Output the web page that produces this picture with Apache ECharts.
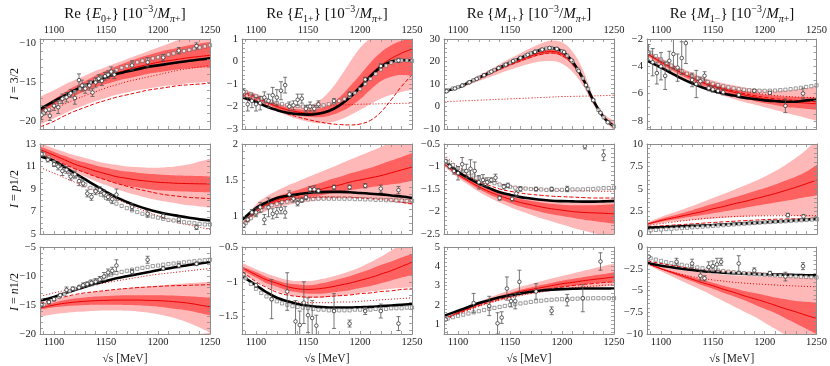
<!DOCTYPE html>
<html><head><meta charset="utf-8">
<script src="https://cdn.jsdelivr.net/npm/echarts@6/dist/echarts.min.js"></script>
<style>html,body{margin:0;padding:0;background:#fff}#c{width:830px;height:366px}</style>
</head><body><div id="c"></div>
<script>
// ---------------- DATA ----------------
// panels in order: row (I=3/2, p1/2, n1/2) x column (E0+, E1+, M1+, M1-)
const xs = [1087,1100,1110,1120,1130,1140,1150,1160,1170,1180,1190,1200,1210,1220,1230,1240,1250];
const sqX = [1090,1095,1100,1105,1110,1115,1120,1125,1130,1135,1140,1145,1150,1155,1160,1165,1170,1175,1180,1185,1190,1195,1200,1205,1210,1215,1220,1225,1230,1235,1240,1245,1250];
const xTickLabels = [1100,1150,1200,1250];
const xTicks = [1090,1100,1110,1120,1130,1140,1150,1160,1170,1180,1190,1200,1210,1220,1230,1240,1250];
const colNames = [['E','0+'],['E','1+'],['M','1+'],['M','1−']];
const rowNames = ['3/2','p1/2','n1/2'];

const yMin = [-21,-3,-10,-8.6, 5,0.75,-2.5,0, -20,-1.75,0.5,-10];
const yMax = [-9.4,1,30,-2, 13,2,-0.5,10, -5,-0.5,5,0];
const yLabels = [
  [-20,-15,-10],[-3,-2,-1,0,1],[-10,0,10,20,30],[-8,-6,-4,-2],
  [5,7,9,11,13],[1,1.5,2],[-2.5,-2,-1.5,-1,-0.5],[0,2.5,5,7.5,10],
  [-20,-15,-10,-5],[-1.5,-1,-0.5],[1,2,3,4,5],[-10,-7.5,-5,-2.5,0]
];
const yMinor = [1,0.2,2,0.5, 0.5,0.1,0.1,0.5, 1,0.1,0.2,0.5];

const outerHi = [
  [-16.8,-16.0,-15.3,-14.7,-14.1,-13.5,-13.0,-12.5,-12.0,-11.5,-11.0,-10.5,-10.0,-9.5,-9.0,-8.5,-8.0],
  [-1.22,-1.42,-1.62,-1.8,-1.92,-1.98,-1.95,-1.75,-1.35,-0.75,-0.05,0.6,1.05,1.4,1.6,1.7,1.75],
  [7.0,8.9,11.2,13.7,16.2,18.8,21.3,23.7,26.0,28.0,29.3,28.6,24.5,16.5,4.5,-3.2,-6.2],
  [-2.9,-3.4,-3.8,-4.15,-4.48,-4.8,-5.05,-5.25,-5.4,-5.55,-5.65,-5.72,-5.75,-5.75,-5.7,-5.6,-5.5],
  [13.1,12.6,12.3,12.0,11.75,11.5,11.3,11.15,11.0,10.95,10.9,10.9,10.95,11.05,11.2,11.45,11.7],
  [0.9,1.16,1.27,1.35,1.42,1.48,1.54,1.6,1.66,1.72,1.78,1.84,1.9,1.96,2.02,2.08,2.14],
  [-0.9,-1.12,-1.24,-1.36,-1.46,-1.54,-1.6,-1.66,-1.7,-1.74,-1.76,-1.78,-1.78,-1.77,-1.76,-1.74,-1.72],
  [1.3,1.9,2.3,2.7,3.1,3.55,4.0,4.45,4.9,5.35,5.85,6.4,7.0,7.7,8.5,9.4,10.5],
  [-14.8,-14.1,-13.65,-13.3,-13.0,-12.75,-12.55,-12.35,-12.15,-11.95,-11.8,-11.65,-11.5,-11.35,-11.2,-11.1,-11.0],
  [-0.73,-0.82,-0.88,-0.93,-0.97,-0.99,-0.99,-0.97,-0.94,-0.9,-0.85,-0.79,-0.72,-0.64,-0.55,-0.45,-0.35],
  [1.35,1.67,1.93,2.17,2.38,2.58,2.76,2.94,3.09,3.23,3.37,3.5,3.63,3.76,3.89,4.02,4.15],
  [-1.75,-2.2,-2.45,-2.65,-2.8,-2.95,-3.05,-3.15,-3.25,-3.3,-3.35,-3.4,-3.42,-3.45,-3.47,-3.48,-3.5]
];
const outerLo = [
  [-20.4,-19.6,-19.0,-18.4,-17.9,-17.4,-17.0,-16.6,-16.3,-16.0,-15.8,-15.6,-15.4,-15.3,-15.1,-15.0,-14.9],
  [-1.5,-1.74,-1.98,-2.2,-2.4,-2.56,-2.68,-2.74,-2.72,-2.6,-2.4,-2.16,-1.9,-1.66,-1.48,-1.35,-1.27],
  [6.6,7.9,9.6,11.3,13.0,14.7,16.3,17.8,19.1,20.0,20.2,19.0,15.5,9.5,1.0,-5.8,-10.5],
  [-3.3,-4.0,-4.4,-4.85,-5.22,-5.6,-5.88,-6.15,-6.4,-6.62,-6.8,-7.0,-7.2,-7.4,-7.6,-7.8,-8.0],
  [11.9,11.4,10.95,10.5,10.1,9.7,9.35,9.0,8.7,8.45,8.2,8.0,7.85,7.7,7.55,7.45,7.35],
  [0.82,1.0,1.07,1.12,1.15,1.18,1.2,1.22,1.23,1.24,1.24,1.24,1.23,1.22,1.2,1.18,1.15],
  [-1.0,-1.25,-1.41,-1.56,-1.69,-1.8,-1.9,-1.99,-2.07,-2.15,-2.22,-2.29,-2.36,-2.42,-2.48,-2.54,-2.6],
  [0.95,1.2,1.35,1.45,1.55,1.62,1.7,1.78,1.85,1.92,2.0,2.05,2.1,2.1,2.0,1.85,1.6],
  [-17.0,-16.6,-16.4,-16.2,-16.1,-16.0,-15.95,-15.95,-16.0,-16.1,-16.3,-16.6,-17.0,-17.5,-18.1,-18.9,-19.8],
  [-0.88,-0.99,-1.07,-1.13,-1.18,-1.21,-1.23,-1.23,-1.22,-1.2,-1.18,-1.16,-1.14,-1.12,-1.1,-1.09,-1.08],
  [1.25,1.53,1.74,1.93,2.09,2.23,2.36,2.48,2.57,2.65,2.72,2.78,2.84,2.88,2.92,2.96,3.0],
  [-2.05,-2.8,-3.35,-3.9,-4.45,-5.0,-5.6,-6.2,-6.8,-7.4,-8.0,-8.7,-9.4,-10.1,-10.8,-11.5,-12.2]
];
const innerHi = [
  [-18.3,-17.2,-16.3,-15.5,-14.8,-14.1,-13.5,-12.9,-12.4,-11.9,-11.5,-11.1,-10.8,-10.5,-10.2,-10.0,-9.8],
  [-1.28,-1.5,-1.72,-1.9,-2.04,-2.12,-2.15,-2.1,-1.92,-1.6,-1.12,-0.6,-0.05,0.4,0.72,0.92,1.05],
  [6.9,8.6,10.7,12.9,15.1,17.4,19.6,21.6,23.5,25.0,25.6,24.3,20.0,12.5,2.9,-4.2,-7.8],
  [-3.0,-3.55,-3.95,-4.33,-4.67,-5.0,-5.25,-5.48,-5.66,-5.83,-5.96,-6.08,-6.16,-6.22,-6.26,-6.28,-6.3],
  [12.75,12.3,11.95,11.6,11.35,11.1,10.9,10.7,10.55,10.45,10.35,10.3,10.25,10.2,10.18,10.15,10.1],
  [0.88,1.11,1.2,1.27,1.32,1.36,1.41,1.45,1.5,1.54,1.59,1.63,1.67,1.72,1.77,1.82,1.87],
  [-0.93,-1.15,-1.28,-1.4,-1.5,-1.59,-1.66,-1.72,-1.76,-1.8,-1.83,-1.85,-1.86,-1.86,-1.86,-1.85,-1.84],
  [1.2,1.7,2.0,2.3,2.65,3.0,3.35,3.7,4.05,4.4,4.75,5.1,5.5,5.95,6.4,6.95,7.7],
  [-15.2,-14.6,-14.2,-13.9,-13.7,-13.55,-13.45,-13.35,-13.3,-13.3,-13.3,-13.3,-13.35,-13.4,-13.5,-13.6,-13.7],
  [-0.78,-0.86,-0.93,-0.98,-1.02,-1.04,-1.05,-1.03,-1.0,-0.96,-0.92,-0.87,-0.82,-0.76,-0.71,-0.65,-0.6],
  [1.32,1.63,1.87,2.1,2.29,2.47,2.63,2.79,2.91,3.03,3.14,3.25,3.34,3.43,3.52,3.6,3.7],
  [-1.85,-2.4,-2.75,-3.1,-3.45,-3.8,-4.1,-4.45,-4.75,-5.05,-5.3,-5.55,-5.8,-6.0,-6.2,-6.3,-6.4]
];
const innerLo = [
  [-18.9,-18.0,-17.3,-16.7,-16.1,-15.6,-15.2,-14.8,-14.5,-14.2,-13.9,-13.7,-13.5,-13.3,-13.2,-13.1,-13.0],
  [-1.42,-1.64,-1.88,-2.1,-2.26,-2.38,-2.46,-2.48,-2.42,-2.26,-2.02,-1.68,-1.25,-0.88,-0.68,-0.6,-0.62],
  [6.7,8.2,10.1,12.1,14.1,16.2,18.1,19.9,21.6,22.9,23.4,22.2,18.4,11.5,2.3,-4.9,-8.9],
  [-3.2,-3.85,-4.25,-4.67,-5.03,-5.4,-5.65,-5.92,-6.14,-6.37,-6.54,-6.72,-6.84,-6.98,-7.04,-7.12,-7.2],
  [12.25,11.7,11.25,10.8,10.45,10.1,9.8,9.5,9.3,9.15,9.0,8.9,8.85,8.8,8.76,8.73,8.7],
  [0.84,1.05,1.12,1.17,1.2,1.23,1.26,1.28,1.31,1.33,1.36,1.38,1.4,1.42,1.44,1.46,1.49],
  [-0.97,-1.21,-1.36,-1.5,-1.62,-1.72,-1.81,-1.89,-1.95,-2.01,-2.06,-2.1,-2.14,-2.18,-2.21,-2.24,-2.27],
  [1.0,1.35,1.55,1.75,1.95,2.1,2.3,2.5,2.7,2.9,3.1,3.3,3.5,3.7,3.9,4.1,4.3],
  [-15.8,-15.4,-15.2,-15.1,-15.0,-14.95,-14.95,-14.95,-15.0,-15.05,-15.15,-15.3,-15.5,-15.75,-16.0,-16.4,-16.8],
  [-0.83,-0.94,-1.02,-1.07,-1.12,-1.15,-1.17,-1.17,-1.16,-1.14,-1.12,-1.09,-1.06,-1.02,-0.98,-0.94,-0.9],
  [1.28,1.57,1.79,2.0,2.17,2.33,2.47,2.61,2.7,2.78,2.86,2.95,3.0,3.07,3.12,3.16,3.2],
  [-1.95,-2.6,-3.05,-3.5,-3.95,-4.4,-4.8,-5.25,-5.65,-6.1,-6.6,-7.1,-7.6,-8.2,-8.8,-9.4,-10.0]
];
const redCentral = [
  [-18.6,-17.6,-16.8,-16.1,-15.4,-14.8,-14.3,-13.8,-13.4,-13.0,-12.7,-12.4,-12.2,-12.0,-11.8,-11.65,-11.5],
  [-1.35,-1.57,-1.8,-2.0,-2.15,-2.24,-2.3,-2.28,-2.16,-1.92,-1.55,-1.06,-0.57,-0.17,0.13,0.37,0.55],
  [6.8,8.4,10.4,12.5,14.6,16.8,18.8,20.7,22.5,23.9,24.5,23.3,19.2,12.0,2.6,-4.5,-8.3],
  [-3.1,-3.7,-4.1,-4.5,-4.85,-5.2,-5.45,-5.7,-5.9,-6.1,-6.25,-6.4,-6.5,-6.6,-6.65,-6.7,-6.75],
  [12.5,12.0,11.6,11.2,10.9,10.6,10.35,10.1,9.95,9.8,9.7,9.6,9.55,9.5,9.48,9.46,9.45],
  [0.86,1.08,1.16,1.22,1.26,1.29,1.33,1.36,1.4,1.43,1.47,1.5,1.53,1.56,1.6,1.64,1.68],
  [-0.95,-1.18,-1.32,-1.45,-1.56,-1.65,-1.73,-1.8,-1.85,-1.9,-1.94,-1.97,-2.0,-2.02,-2.03,-2.04,-2.05],
  [1.1,1.5,1.75,2.0,2.25,2.5,2.8,3.05,3.35,3.6,3.9,4.2,4.5,4.85,5.2,5.6,6.0],
  [-15.5,-15.0,-14.7,-14.5,-14.35,-14.25,-14.2,-14.15,-14.15,-14.15,-14.2,-14.25,-14.35,-14.5,-14.7,-15.0,-15.3],
  [-0.8,-0.9,-0.97,-1.02,-1.07,-1.1,-1.11,-1.1,-1.08,-1.05,-1.02,-0.98,-0.94,-0.89,-0.84,-0.78,-0.72],
  [1.3,1.6,1.83,2.05,2.23,2.4,2.55,2.7,2.8,2.9,3.0,3.1,3.17,3.25,3.32,3.38,3.45],
  [-1.9,-2.5,-2.9,-3.3,-3.7,-4.1,-4.45,-4.85,-5.2,-5.6,-5.95,-6.3,-6.7,-7.1,-7.45,-7.85,-8.2]
];
const redDashed = [
  [-20.7,-20.0,-19.3,-18.7,-18.2,-17.7,-17.3,-16.9,-16.6,-16.3,-16.0,-15.8,-15.6,-15.4,-15.3,-15.2,-15.1],
  [-1.5,-1.72,-1.95,-2.15,-2.33,-2.46,-2.58,-2.68,-2.76,-2.8,-2.82,-2.78,-2.62,-2.25,-1.7,-1.1,-0.6],
  [6.7,8.2,10.2,12.2,14.3,16.4,18.4,20.2,21.9,23.2,23.8,22.6,18.7,11.7,2.5,-4.6,-8.5],
  [-3.05,-3.65,-4.05,-4.45,-4.8,-5.12,-5.38,-5.62,-5.82,-6.0,-6.15,-6.28,-6.38,-6.45,-6.5,-6.55,-6.6],
  [12.2,11.6,11.2,10.8,10.45,10.1,9.8,9.5,9.25,9.0,8.8,8.6,8.45,8.35,8.25,8.2,8.15],
  [0.87,1.05,1.13,1.19,1.22,1.24,1.25,1.26,1.26,1.26,1.26,1.25,1.24,1.23,1.21,1.19,1.17],
  [-0.9,-1.1,-1.22,-1.33,-1.42,-1.5,-1.55,-1.59,-1.62,-1.64,-1.66,-1.67,-1.68,-1.69,-1.7,-1.7,-1.7],
  [0.8,0.9,0.98,1.05,1.12,1.2,1.28,1.35,1.42,1.48,1.54,1.6,1.64,1.67,1.69,1.7,1.7],
  [-14.7,-14.0,-13.6,-13.2,-12.9,-12.7,-12.5,-12.3,-12.15,-12.0,-11.9,-11.8,-11.7,-11.65,-11.6,-11.55,-11.5],
  [-0.85,-1.0,-1.08,-1.15,-1.19,-1.21,-1.22,-1.22,-1.21,-1.2,-1.19,-1.17,-1.16,-1.14,-1.13,-1.11,-1.1],
  [1.28,1.55,1.77,1.97,2.14,2.3,2.43,2.56,2.66,2.76,2.85,2.93,3.0,3.06,3.11,3.16,3.2],
  [-1.6,-1.9,-2.1,-2.3,-2.45,-2.58,-2.68,-2.77,-2.85,-2.92,-2.98,-3.03,-3.08,-3.12,-3.16,-3.19,-3.22]
];
const redDotted = [
  [-19.2,-18.4,-17.8,-17.2,-16.7,-16.2,-15.7,-15.3,-14.9,-14.6,-14.3,-14.0,-13.7,-13.4,-13.2,-13.0,-12.8],
  [-1.4,-1.65,-1.8,-1.9,-1.95,-1.97,-1.97,-1.96,-1.95,-1.93,-1.92,-1.9,-1.89,-1.88,-1.87,-1.86,-1.85],
  [2.2,2.4,2.6,2.8,3.0,3.2,3.4,3.6,3.8,4.0,4.2,4.4,4.5,4.6,4.7,4.85,5.0],
  [-2.95,-3.5,-3.9,-4.3,-4.65,-4.98,-5.24,-5.47,-5.66,-5.82,-5.95,-6.06,-6.14,-6.2,-6.25,-6.28,-6.3],
  [10.9,10.4,10.0,9.6,9.2,8.85,8.5,8.1,7.7,7.3,6.95,6.6,6.3,6.0,5.8,5.6,5.4],
  [0.9,1.08,1.15,1.2,1.23,1.25,1.26,1.265,1.265,1.26,1.255,1.25,1.245,1.24,1.235,1.23,1.22],
  [-0.75,-1.0,-1.13,-1.24,-1.32,-1.39,-1.44,-1.47,-1.49,-1.51,-1.52,-1.53,-1.54,-1.54,-1.55,-1.55,-1.55],
  [0.95,1.15,1.3,1.45,1.58,1.7,1.8,1.88,1.94,1.98,2.0,2.02,2.03,2.04,2.04,2.04,2.04],
  [-13.5,-12.9,-12.5,-12.1,-11.75,-11.45,-11.15,-10.85,-10.55,-10.25,-9.95,-9.7,-9.5,-9.3,-9.1,-8.9,-8.7],
  [-0.9,-1.05,-1.15,-1.22,-1.27,-1.29,-1.3,-1.3,-1.3,-1.29,-1.29,-1.28,-1.27,-1.26,-1.25,-1.24,-1.23],
  [1.25,1.5,1.72,1.92,2.09,2.24,2.37,2.49,2.59,2.68,2.76,2.83,2.89,2.94,2.98,3.02,3.05],
  [-1.9,-2.5,-2.85,-3.15,-3.4,-3.6,-3.78,-3.92,-4.05,-4.15,-4.23,-4.3,-4.37,-4.43,-4.48,-4.53,-4.58]
];
const blackCurve = [
  [-18.4,-17.4,-16.7,-16.0,-15.4,-14.8,-14.3,-13.9,-13.6,-13.3,-13.0,-12.8,-12.6,-12.4,-12.2,-12.05,-11.9],
  [-1.6,-1.8,-2.0,-2.16,-2.28,-2.34,-2.36,-2.32,-2.2,-1.96,-1.6,-1.15,-0.66,-0.25,0.0,0.07,0.03],
  [6.8,8.5,10.6,12.8,15.0,17.3,19.5,21.6,23.6,25.2,26.0,24.6,20.0,12.5,2.8,-4.8,-8.8],
  [-3.6,-4.1,-4.5,-4.9,-5.25,-5.55,-5.8,-6.0,-6.15,-6.3,-6.4,-6.5,-6.55,-6.6,-6.6,-6.5,-6.45],
  [11.9,11.5,10.95,10.4,9.85,9.3,8.75,8.25,7.85,7.5,7.2,6.95,6.75,6.6,6.45,6.3,6.2],
  [0.95,1.11,1.19,1.25,1.28,1.3,1.32,1.33,1.335,1.335,1.33,1.32,1.31,1.3,1.285,1.27,1.25],
  [-0.86,-1.12,-1.26,-1.38,-1.48,-1.57,-1.63,-1.68,-1.71,-1.74,-1.76,-1.77,-1.775,-1.78,-1.78,-1.775,-1.77],
  [0.7,0.75,0.8,0.85,0.9,0.95,1.0,1.06,1.12,1.18,1.24,1.3,1.37,1.44,1.52,1.6,1.7],
  [-14.2,-13.6,-13.0,-12.4,-11.85,-11.3,-10.85,-10.4,-10.05,-9.7,-9.35,-9.0,-8.7,-8.4,-8.1,-7.85,-7.6],
  [-0.92,-1.05,-1.15,-1.23,-1.28,-1.32,-1.345,-1.36,-1.37,-1.37,-1.37,-1.365,-1.36,-1.35,-1.34,-1.33,-1.32],
  [1.45,1.7,1.9,2.1,2.25,2.4,2.5,2.6,2.68,2.75,2.79,2.82,2.84,2.85,2.85,2.85,2.85],
  [-1.85,-2.15,-2.33,-2.5,-2.65,-2.78,-2.88,-2.96,-3.02,-3.07,-3.11,-3.15,-3.17,-3.19,-3.21,-3.24,-3.26]
];
const squares = [
  [-19.0,-18.5,-18.0,-17.5,-17.0,-16.6,-16.2,-15.8,-15.4,-15.0,-14.7,-14.3,-14.0,-13.7,-13.4,-13.1,-12.9,-12.6,-12.4,-12.2,-12.05,-11.9,-11.75,-11.6,-11.4,-11.25,-11.1,-10.95,-10.8,-10.65,-10.5,-10.35,-10.2],
  [-1.35,-1.45,-1.55,-1.64,-1.72,-1.78,-1.84,-1.89,-1.93,-1.96,-1.98,-2.0,-2.0,-2.0,-1.98,-1.95,-1.9,-1.83,-1.75,-1.66,-1.55,-1.4,-1.22,-1.0,-0.77,-0.55,-0.35,-0.18,-0.05,0.03,0.05,0.05,0.03],
  [7.2,8.0,8.6,9.5,10.6,11.7,12.8,13.9,15.0,16.2,17.3,18.4,19.5,20.6,21.6,22.6,23.6,24.5,25.2,25.8,26.0,25.6,24.6,22.6,20.0,16.5,12.5,7.8,2.8,-1.5,-4.8,-7.0,-8.8],
  [-3.0,-3.25,-3.5,-3.75,-3.95,-4.15,-4.35,-4.55,-4.72,-4.88,-5.02,-5.15,-5.28,-5.38,-5.47,-5.55,-5.62,-5.68,-5.72,-5.76,-5.78,-5.79,-5.8,-5.79,-5.78,-5.75,-5.72,-5.68,-5.63,-5.58,-5.52,-5.46,-5.4],
  [12.1,11.8,11.4,11.05,10.7,10.35,10.05,9.7,9.4,9.1,8.8,8.5,8.2,7.95,7.7,7.5,7.3,7.1,6.95,6.8,6.65,6.55,6.45,6.35,6.25,6.2,6.1,6.05,6.0,5.95,5.9,5.85,5.85],
  [0.9,0.97,1.03,1.08,1.12,1.15,1.17,1.19,1.2,1.21,1.22,1.225,1.23,1.235,1.24,1.24,1.24,1.24,1.24,1.24,1.24,1.235,1.235,1.23,1.23,1.225,1.225,1.22,1.22,1.215,1.215,1.21,1.21],
  [-0.9,-0.97,-1.04,-1.1,-1.15,-1.2,-1.25,-1.29,-1.33,-1.37,-1.4,-1.43,-1.45,-1.47,-1.48,-1.49,-1.5,-1.51,-1.51,-1.52,-1.52,-1.52,-1.52,-1.52,-1.51,-1.51,-1.51,-1.5,-1.5,-1.49,-1.48,-1.48,-1.47],
  [0.4,0.45,0.5,0.54,0.58,0.62,0.66,0.7,0.74,0.78,0.82,0.86,0.9,0.94,0.98,1.02,1.06,1.1,1.14,1.18,1.22,1.26,1.3,1.33,1.36,1.39,1.42,1.46,1.5,1.53,1.56,1.6,1.63],
  [-15.0,-14.5,-14.0,-13.6,-13.1,-12.6,-12.2,-11.8,-11.4,-11.0,-10.7,-10.35,-10.05,-9.75,-9.5,-9.3,-9.1,-8.9,-8.75,-8.6,-8.45,-8.3,-8.2,-8.05,-7.95,-7.85,-7.75,-7.65,-7.55,-7.45,-7.35,-7.28,-7.2],
  [-0.95,-1.03,-1.1,-1.16,-1.21,-1.25,-1.28,-1.31,-1.33,-1.35,-1.36,-1.37,-1.38,-1.39,-1.4,-1.4,-1.41,-1.41,-1.41,-1.41,-1.41,-1.4,-1.4,-1.4,-1.4,-1.39,-1.39,-1.39,-1.38,-1.38,-1.38,-1.37,-1.37],
  [1.3,1.37,1.44,1.5,1.56,1.62,1.68,1.74,1.8,1.85,1.9,1.95,2.0,2.04,2.08,2.12,2.16,2.19,2.22,2.25,2.27,2.29,2.3,2.31,2.32,2.33,2.34,2.34,2.35,2.35,2.35,2.35,2.35],
  [-1.3,-1.45,-1.6,-1.75,-1.85,-1.95,-2.05,-2.15,-2.25,-2.35,-2.45,-2.55,-2.62,-2.7,-2.77,-2.84,-2.9,-2.96,-3.0,-3.05,-3.1,-3.14,-3.18,-3.22,-3.25,-3.29,-3.32,-3.35,-3.38,-3.41,-3.44,-3.47,-3.5]
];
// measured points: [x, value, error]
const points = [
  [[1088,-19.2,0.6],[1092,-18.6,0.5],[1096,-19.3,0.6],[1100,-18.0,0.6],[1104,-18.2,0.8],[1108,-17.1,0.6],[1112,-16.9,0.6],[1116,-16.4,0.5],[1120,-17.0,0.8],[1124,-14.7,0.8],[1127,-15.4,0.7],[1130,-15.8,0.6],[1134,-15.4,0.6],[1137,-16.3,0.5],[1140,-15.0,0.6],[1143,-14.5,0.5],[1146,-14.8,0.6],[1149,-14.2,0.5],[1152,-14.0,0.5],[1155,-13.6,0.6],[1158,-14.0,0.5],[1175,-12.8,0.6],[1190,-12.4,0.6],[1205,-11.8,0.4],[1220,-10.9,0.4],[1237,-10.3,0.4]],
  [[1088,-1.35,0.15],[1092,-1.9,0.3],[1096,-1.75,0.3],[1100,-1.9,0.3],[1104,-1.85,0.3],[1108,-1.6,0.25],[1112,-1.75,0.3],[1116,-1.5,0.35],[1120,-1.6,0.35],[1124,-1.3,0.4],[1128,-1.05,0.35],[1132,-2.0,0.2],[1136,-1.95,0.2],[1140,-1.7,0.25],[1144,-1.65,0.2],[1148,-2.1,0.15],[1152,-2.0,0.2],[1156,-2.1,0.15],[1160,-1.9,0.15],[1175,-1.75,0.1],[1190,-1.45,0.1],[1205,-0.8,0.1],[1220,-0.2,0.1],[1237,0.05,0.1]],
  [[1089,6.8,0.3],[1097,8.0,0.3],[1104,9.3,0.3],[1111,10.8,0.3],[1118,12.3,0.3],[1125,13.9,0.3],[1132,15.5,0.3],[1139,17.1,0.3],[1146,18.6,0.3],[1153,20.2,0.3],[1160,21.6,0.3],[1167,23.0,0.3],[1174,24.3,0.3],[1181,25.3,0.3],[1188,26.0,0.3],[1195,25.6,0.3],[1202,24.2,0.3],[1209,20.6,0.3],[1216,15.8,0.3],[1223,9.5,0.3],[1230,2.8,0.3],[1237,-2.8,0.3],[1244,-7.0,0.3]],
  [[1088,-3.0,0.6],[1092,-3.7,1.0],[1096,-4.5,0.8],[1100,-4.0,1.0],[1104,-4.7,1.0],[1108,-3.6,0.7],[1112,-3.1,1.1],[1116,-4.1,1.0],[1120,-3.4,1.2],[1124,-2.3,1.5],[1130,-5.0,0.5],[1134,-5.3,1.0],[1138,-5.1,0.3],[1142,-4.7,0.3],[1146,-5.6,0.2],[1150,-5.7,0.2],[1155,-5.8,0.2],[1160,-5.9,0.2],[1175,-6.1,0.1],[1190,-5.8,0.1],[1205,-5.95,0.1],[1220,-6.9,0.5],[1237,-6.0,0.4]],
  [[1088,12.1,0.2],[1094,11.6,0.2],[1100,11.2,0.2],[1104,11.0,0.3],[1108,10.6,0.4],[1112,10.7,0.3],[1116,10.1,0.3],[1120,10.3,0.3],[1124,9.7,0.4],[1128,9.5,0.3],[1132,8.6,0.3],[1136,8.3,0.3],[1140,8.8,0.3],[1144,8.9,0.3],[1148,8.6,0.3],[1152,8.3,0.3],[1156,8.1,0.4],[1160,8.5,0.5],[1175,7.4,0.3],[1190,6.8,0.3],[1205,6.6,0.2],[1220,6.3,0.2],[1237,5.6,0.2]],
  [[1088,0.87,0.03],[1092,0.95,0.03],[1096,1.05,0.04],[1100,1.05,0.06],[1104,1.12,0.07],[1108,0.95,0.07],[1112,1.12,0.13],[1116,1.03,0.07],[1120,1.05,0.07],[1124,1.1,0.07],[1128,1.05,0.08],[1132,1.3,0.05],[1136,1.24,0.04],[1140,1.18,0.04],[1144,1.22,0.03],[1148,1.26,0.03],[1152,1.37,0.04],[1156,1.37,0.05],[1160,1.35,0.03],[1175,1.4,0.03],[1190,1.4,0.03],[1205,1.42,0.03],[1220,1.38,0.05],[1237,1.36,0.05]],
  [[1088,-0.88,0.03],[1092,-1.0,0.05],[1096,-1.1,0.07],[1100,-1.15,0.15],[1104,-0.95,0.15],[1108,-1.1,0.15],[1112,-1.05,0.2],[1116,-1.1,0.2],[1120,-1.35,0.15],[1124,-1.3,0.12],[1128,-1.35,0.1],[1132,-1.3,0.05],[1136,-1.25,0.08],[1140,-1.7,0.05],[1144,-1.45,0.05],[1148,-1.42,0.05],[1152,-1.72,0.05],[1156,-1.6,0.06],[1160,-1.5,0.05],[1175,-1.5,0.04],[1190,-1.5,0.04],[1205,-1.5,0.06],[1222,-0.55,0.06],[1240,-0.75,0.12]],
  [[1222,2.1,0.2],[1237,1.95,0.2]],
  [[1088,-15.0,0.3],[1095,-14.5,0.3],[1100,-14.0,0.3],[1106,-13.3,0.3],[1112,-12.4,0.5],[1118,-12.2,0.3],[1124,-12.0,0.3],[1128,-11.6,0.4],[1132,-11.4,0.4],[1136,-11.2,0.5],[1140,-11.0,0.5],[1144,-10.6,0.5],[1148,-10.1,0.7],[1152,-9.4,0.6],[1156,-9.1,0.6],[1160,-8.2,1.0],[1175,-9.3,0.4],[1190,-7.2,0.6],[1205,-8.7,0.3],[1220,-8.2,0.4],[1237,-7.9,0.3]],
  [[1088,-0.9,0.03],[1100,-1.05,0.03],[1115,-1.25,0.28],[1130,-1.14,0.27],[1138,-1.57,0.3],[1142,-1.62,0.2],[1146,-1.3,0.3],[1150,-1.48,0.25],[1154,-1.52,0.25],[1158,-1.63,0.15],[1175,-1.42,0.25],[1190,-1.6,0.05],[1205,-1.42,0.05],[1220,-1.42,0.1],[1237,-1.6,0.1]],
  [[1088,1.25,0.05],[1115,2.1,0.5],[1130,1.95,0.5],[1138,1.05,0.55],[1142,1.35,0.3],[1147,2.85,0.6],[1151,2.2,0.3],[1155,2.2,0.4],[1159,3.2,0.6],[1175,2.7,0.4],[1190,1.7,0.2],[1205,2.25,0.3],[1220,2.35,0.7],[1237,4.25,0.45]],
  [[1088,-1.1,0.1],[1115,-1.7,0.4],[1130,-1.9,0.5],[1138,-3.3,0.5],[1142,-3.6,0.3],[1146,-2.3,0.6],[1150,-2.2,0.6],[1154,-2.0,0.7],[1158,-1.7,0.4],[1175,-1.9,0.9],[1190,-2.7,0.3],[1205,-3.0,0.2],[1220,-3.4,0.5],[1237,-2.2,0.4]]
];

// ---------------- LAYOUT / STYLE ----------------
const colLeft = [40, 242, 444, 647];
const colW = 170;
const rowTop = [39, 144, 247];
const rowH = 90;
const X_MIN = 1086.5, X_MAX = 1250;
const FONT = 'Liberation Serif';
const FRAME = '#8c8c8c';
const C_OUTER = '#ffb8b8', C_INNER = '#ff6060', C_RED = '#e80000';

function ticksOf(min, max, step) {
  const out = [];
  const s = Math.ceil(min / step - 1e-9);
  for (let k = s; k * step <= max + 1e-9; k++) out.push(+(k * step).toFixed(4));
  return out;
}
const fmt = v => String(+(+v).toFixed(3)).replace('-', '\u2212');
const pairs = (xArr, yArr) => xArr.map((x, i) => [x, yArr[i]]);

const grid = [], xAxis = [], yAxis = [], series = [], graphic = [];
for (let r = 0; r < 3; r++) {
  for (let c = 0; c < 4; c++) {
    const p = r * 4 + c;
    grid.push({ left: colLeft[c], top: rowTop[r], width: colW, height: rowH, containLabel: false });
    const axBase = (pos, showLab) => ({
      type: 'value', gridIndex: p, position: pos, min: X_MIN, max: X_MAX, z: 20,
      axisLine: { show: true, onZero: false, lineStyle: { color: FRAME, width: 1 } },
      axisTick: { show: true, inside: true, length: 3, customValues: xTicks, lineStyle: { color: FRAME, width: 0.8 } },
      axisLabel: { show: showLab, customValues: xTickLabels, formatter: v => String(v), fontFamily: FONT, fontSize: 10.5, color: '#222', margin: 3 },
      splitLine: { show: false }
    });
    const xb = axBase('bottom', r === 2);
    if (r === 2) {
      xb.name = '\u221As [MeV]';
      xb.nameLocation = 'middle';
      xb.nameGap = 19;
      xb.nameTextStyle = { fontFamily: FONT, fontSize: 11.5, color: '#222' };
    }
    xAxis.push(xb);
    xAxis.push(axBase('top', r === 0));
    const yt = ticksOf(yMin[p], yMax[p], yMinor[p]);
    const yBase = (pos, showLab) => ({
      type: 'value', gridIndex: p, position: pos, min: yMin[p], max: yMax[p], z: 20,
      axisLine: { show: true, onZero: false, lineStyle: { color: FRAME, width: 1 } },
      axisTick: { show: true, inside: true, length: 3, customValues: yt, lineStyle: { color: FRAME, width: 0.8 } },
      axisLabel: { show: showLab, customValues: yLabels[p], formatter: fmt, fontFamily: FONT, fontSize: 10.5, color: '#222', margin: 4 },
      splitLine: { show: false }
    });
    yAxis.push(yBase('left', true));
    yAxis.push(yBase('right', false));

    const common = { xAxisIndex: 2 * p, yAxisIndex: 2 * p, silent: true, animation: false };
    const area = (arr, color, z) => Object.assign({ type: 'line', z: z, smooth: 0.4, symbol: 'none',
      lineStyle: { width: 0, opacity: 0 }, areaStyle: { color: color, opacity: 1, origin: 'start' }, data: pairs(xs, arr) }, common);
    // bands: upper outer (light), upper inner (dark), lower inner (light), lower outer (white)
    series.push(area(outerHi[p], C_OUTER, 1));
    series.push(area(innerHi[p], C_INNER, 2));
    series.push(area(innerLo[p], C_OUTER, 3));
    series.push(area(outerLo[p], '#ffffff', 4));
    // red curves
    series.push(Object.assign({ type: 'line', z: 5, smooth: 0.4, symbol: 'none', lineStyle: { color: C_RED, width: 1 }, data: pairs(xs, redCentral[p]) }, common));
    series.push(Object.assign({ type: 'line', z: 5, smooth: 0.4, symbol: 'none', lineStyle: { color: C_RED, width: 1, type: [4, 2] }, data: pairs(xs, redDashed[p]) }, common));
    series.push(Object.assign({ type: 'line', z: 5, smooth: 0.4, symbol: 'none', lineStyle: { color: C_RED, width: 1, type: [1, 2] }, data: pairs(xs, redDotted[p]) }, common));
    // black curve
    series.push(Object.assign({ type: 'line', z: 6, smooth: 0.4, symbol: 'none', lineStyle: { color: '#000', width: 2.6 }, data: pairs(xs, blackCurve[p]) }, common));
    // open squares
    series.push(Object.assign({ type: 'scatter', z: 7, symbol: 'rect', symbolSize: 3.2,
      itemStyle: { color: '#fff', borderColor: '#555', borderWidth: 0.7 }, data: pairs(sqX, squares[p]) }, common));
    // points with error bars
    series.push(Object.assign({ type: 'custom', z: 8, clip: true, data: points[p],
      renderItem: function (params, api) {
        const x = api.value(0), y = api.value(1), e = api.value(2);
        const pc = api.coord([x, y]);
        const pt = api.coord([x, y + e]);
        const pb = api.coord([x, y - e]);
        const st = { stroke: '#555', lineWidth: 0.8 };
        return { type: 'group', children: [
          { type: 'line', shape: { x1: pc[0], y1: pt[1], x2: pc[0], y2: pb[1] }, style: st },
          { type: 'line', shape: { x1: pc[0] - 2, y1: pt[1], x2: pc[0] + 2, y2: pt[1] }, style: st },
          { type: 'line', shape: { x1: pc[0] - 2, y1: pb[1], x2: pc[0] + 2, y2: pb[1] }, style: st },
          { type: 'circle', shape: { cx: pc[0], cy: pc[1], r: 1.8 }, style: { fill: '#fff', stroke: '#333', lineWidth: 0.8 } }
        ]};
      } }, common));
  }
}

// column titles
const richT = {
  it: { fontFamily: FONT, fontStyle: 'italic', fontSize: 15, fill: '#111', lineHeight: 20 },
  sub: { fontFamily: FONT, fontStyle: 'normal', fontSize: 10, fill: '#111', verticalAlign: 'bottom', lineHeight: 20 },
  subi: { fontFamily: FONT, fontStyle: 'italic', fontSize: 10, fill: '#111', verticalAlign: 'bottom', lineHeight: 20 },
  sup: { fontFamily: FONT, fontSize: 10, fill: '#111', verticalAlign: 'top', lineHeight: 20 }
};
for (let c = 0; c < 4; c++) {
  graphic.push({
    type: 'text', x: colLeft[c] + colW / 2, y: 14,
    style: {
      text: 'Re {{it|' + colNames[c][0] + '}{sub|' + colNames[c][1] + '}} [10{sup|\u22123}/{it|M}{subi|\u03C0}{sub|+}]',
      align: 'center', verticalAlign: 'middle', rich: richT, fontFamily: FONT, fontSize: 15, lineHeight: 20, fill: '#111'
    }
  });
}
// row labels
for (let r = 0; r < 3; r++) {
  const parts = rowNames[r].match(/^([a-z]?)(.*)$/);
  const txt = '{it|I}{n| = }' + (parts[1] ? '{it|' + parts[1] + '}' : '') + '{n|' + parts[2] + '}';
  graphic.push({
    type: 'text', x: 15, y: rowTop[r] + rowH / 2, rotation: Math.PI / 2,
    style: { text: txt, align: 'center', verticalAlign: 'middle', rich: {
      it: { fontFamily: FONT, fontStyle: 'italic', fontSize: 12, fill: '#111' },
      n: { fontFamily: FONT, fontSize: 12, fill: '#111' } } }
  });
}

const chart = echarts.init(document.getElementById('c'), null, { renderer: 'canvas' });
chart.setOption({ animation: false, backgroundColor: '#fff', grid, xAxis, yAxis, series, graphic });
</script></body></html>
